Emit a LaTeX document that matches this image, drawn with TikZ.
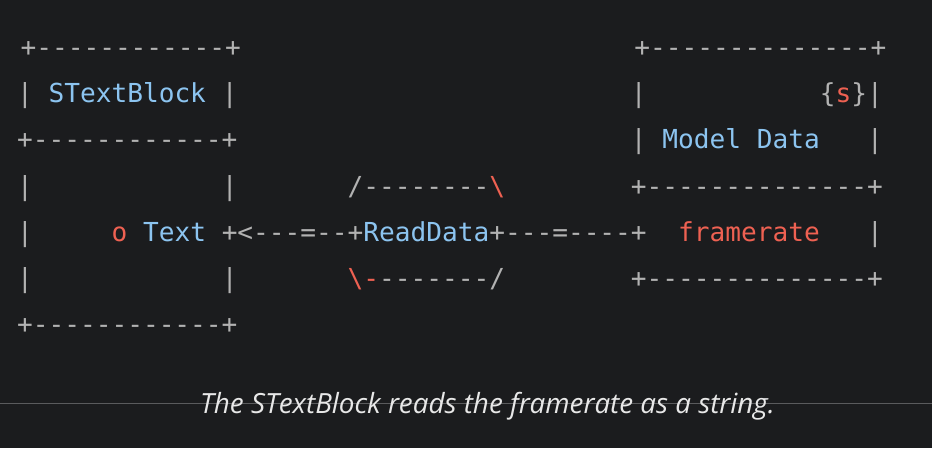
\documentclass[tikz,border=0pt]{standalone}
\usepackage{fontspec}
\newfontfamily\monofnt{DejaVu Sans Mono}[Ligatures=TeXOff]
\newfontfamily\capfnt{Open Sans}
\definecolor{bgc}{HTML}{1B1C1E}
\definecolor{grayc}{HTML}{B2B2B2}
\definecolor{bluec}{HTML}{8CC4F0}
\definecolor{redc}{HTML}{EE6152}
\definecolor{capc}{HTML}{E8E8E8}
\definecolor{rulec}{HTML}{5A5B5D}
\tikzset{
  seg/.style={inner sep=0pt, outer sep=0pt, anchor=base west,
    font=\monofnt\fontsize{26.14}{30}\selectfont},
}
% name, column, row, colour, text
\newcommand\asc[5]{\node[seg,text=#4] (#1) at ({17.13+#2*15.74},{391-46*(#3-1)}) {#5};}
\begin{document}
\begin{tikzpicture}[x=1pt,y=1pt]
\fill[bgc] (0,0) rectangle (932,448);
\useasboundingbox (0,0) rectangle (932,448);
% row 1
\asc{ra}{0.22}{1}{grayc}{+------------+}
\asc{rb}{39.22}{1}{grayc}{+--------------+}
% row 2
\asc{rc}{0}{2}{grayc}{|}
\asc{rd}{2}{2}{bluec}{STextBlock}
\asc{re}{13}{2}{grayc}{|}
\asc{rf}{39}{2}{grayc}{|}
\asc{rg}{51}{2}{grayc}{\{}
\asc{rh}{52}{2}{redc}{s}
\asc{ri}{53}{2}{grayc}{\}}
\asc{rj}{54}{2}{grayc}{|}
% row 3
\asc{rk}{0}{3}{grayc}{+------------+}
\asc{rl}{39}{3}{grayc}{|}
\asc{rm}{41}{3}{bluec}{Model Data}
\asc{rn}{54}{3}{grayc}{|}
% row 4
\asc{ro}{0}{4}{grayc}{|}
\asc{rp}{13}{4}{grayc}{|}
\asc{rq}{21}{4}{grayc}{/--------}
\asc{rr}{30}{4}{redc}{\textbackslash}
\asc{rs}{39}{4}{grayc}{+--------------+}
% row 5
\asc{rt}{0}{5}{grayc}{|}
\asc{ru}{6}{5}{redc}{o}
\asc{rv}{8}{5}{bluec}{Text}
\asc{rw}{13}{5}{grayc}{+<---=--+}
\asc{rx}{22}{5}{bluec}{ReadData}
\asc{ry}{30}{5}{grayc}{+---=----+}
\asc{rz}{42}{5}{redc}{framerate}
\asc{sa}{54}{5}{grayc}{|}
% row 6
\asc{sb}{0}{6}{grayc}{|}
\asc{sc}{13}{6}{grayc}{|}
\asc{sd}{21}{6}{redc}{\textbackslash-}
\asc{se}{23}{6}{grayc}{-------/}
\asc{sf}{39}{6}{grayc}{+--------------+}
% row 7
\asc{sg}{0}{7}{grayc}{+------------+}
% caption rule and caption
\coordinate (rl0) at (0,44.5);
\coordinate (rl1) at (932,44.5);
\draw[rulec, line width=1pt] (rl0) -- (rl1);
\node[inner sep=0pt, anchor=base, text=capc, font=\capfnt\itshape\fontsize{27.8}{32}\selectfont] (cap) at (487.5,35) {The STextBlock reads the framerate as a string.};
\end{tikzpicture}
\end{document}
